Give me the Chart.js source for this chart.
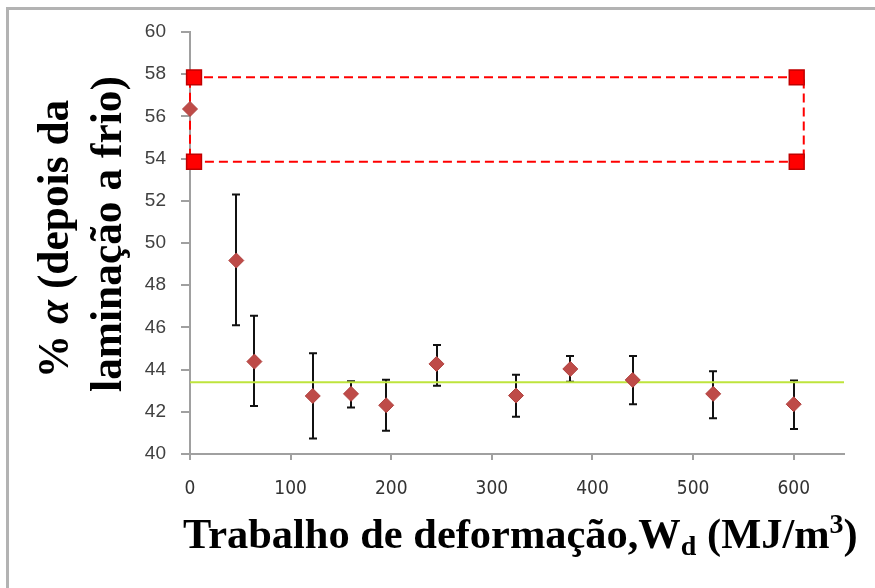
<!DOCTYPE html>
<html>
<head>
<meta charset="utf-8">
<script src="https://cdn.jsdelivr.net/npm/chart.js@4.4.1/dist/chart.umd.min.js"></script>
<style>
  html, body { margin: 0; padding: 0; background: #fff; overflow: hidden; }
  #wrap { position: relative; width: 875px; height: 588px; overflow: hidden; }
  #frame { position: absolute; left: 6px; top: 7px; right: 0; bottom: 0;
           border-top: 3px solid #b3b3b3; border-left: 3px solid #b3b3b3;
           border-right: none; border-bottom: none; pointer-events: none; }
  canvas { display: block; }
</style>
</head>
<body>
<div id="wrap">
  <canvas id="c" width="875" height="588"></canvas>
  <div id="frame"></div>
</div>
<script>
// ---- data ----
const workX      = [0, 46, 64, 122, 160, 195, 245, 324, 378, 440, 520, 600];
const alphaPct   = [56.35, 49.17, 44.38, 42.75, 42.85, 42.31, 44.27, 42.77, 44.03, 43.51, 42.85, 42.36];
const errUpper   = [null, 52.3, 46.55, 44.78, 43.45, 43.52, 45.17, 43.76, 44.65, 44.65, 43.92, 43.48];
const errLower   = [null, 46.1, 42.28, 40.74, 42.2, 41.1, 43.24, 41.77, 43.43, 42.36, 41.7, 41.19];
const bandSquareX = [4, 603];
const bandOutlineX = [0, 610];
const bandY      = [57.85, 53.85];
const meanLineX  = [0, 650];
const meanLineY  = 43.4;
const xTicks     = [0, 100, 200, 300, 400, 500, 600];
const yRange     = [40, 60];

const xTitleParts = [
  {t: 'Trabalho de deformação,W', k: 'n'},
  {t: 'd', k: 'sub'},
  {t: ' (MJ/m', k: 'n'},
  {t: '3', k: 'sup'},
  {t: ')', k: 'n'}
];
const yTitle1 = [{t: '% ', it: false}, {t: 'α', it: true}, {t: ' (depois da', it: false}];
const yTitle2 = 'laminação a frio)';

// build datasets
const mainPts = workX.map((x, i) => ({x: x, y: alphaPct[i]}));
const squarePts = [
  {x: bandSquareX[0], y: bandY[0]}, {x: bandSquareX[1], y: bandY[0]},
  {x: bandSquareX[1], y: bandY[1]}, {x: bandSquareX[0], y: bandY[1]}
];
const outlinePts = [
  {x: bandOutlineX[0], y: bandY[0]}, {x: bandOutlineX[1], y: bandY[0]},
  {x: bandOutlineX[1], y: bandY[1]}, {x: bandOutlineX[0], y: bandY[1]},
  {x: bandOutlineX[0], y: bandY[0]}
];
const meanPts = meanLineX.map(x => ({x: x, y: meanLineY}));

const errorBars = {
  id: 'errorBars',
  beforeDatasetsDraw(chart) {
    const ctx = chart.ctx, xs = chart.scales.x, ys = chart.scales.y;
    ctx.save();
    ctx.strokeStyle = '#111';
    ctx.lineWidth = 2;
    const cap = 4;
    workX.forEach((x, i) => {
      if (errUpper[i] == null) return;
      const px = Math.round(xs.getPixelForValue(x));
      const pt = ys.getPixelForValue(errUpper[i]);
      const pb = ys.getPixelForValue(errLower[i]);
      ctx.beginPath();
      ctx.moveTo(px, pt); ctx.lineTo(px, pb);
      ctx.moveTo(px - cap, pt); ctx.lineTo(px + cap, pt);
      ctx.moveTo(px - cap, pb); ctx.lineTo(px + cap, pb);
      ctx.stroke();
    });
    ctx.restore();
  }
};

const titles = {
  id: 'titles',
  afterDraw(chart) {
    const ctx = chart.ctx;
    ctx.save();
    ctx.fillStyle = '#000';
    const fam = '"Liberation Serif", "Times New Roman", serif';
    function xWidth(fs) {
      let w = 0;
      xTitleParts.forEach(p => {
        const s = p.k === 'n' ? fs : fs * 0.66;
        ctx.font = 'bold ' + s + 'px ' + fam;
        w += ctx.measureText(p.t).width;
      });
      return w;
    }
    let fs = 40;
    fs = fs * 675 / xWidth(fs);
    let x = 183;
    const base = 548;
    ctx.textBaseline = 'alphabetic';
    ctx.textAlign = 'left';
    xTitleParts.forEach(p => {
      let s = fs, dy = 0;
      if (p.k === 'sub') { s = fs * 0.66; dy = fs * 0.16; }
      if (p.k === 'sup') { s = fs * 0.66; dy = -fs * 0.36; }
      ctx.font = 'bold ' + s + 'px ' + fam;
      ctx.fillText(p.t, x, base + dy);
      x += ctx.measureText(p.t).width;
    });
    // y title
    ctx.font = 'bold 40px ' + fam;
    let yfs = 40 * 316 / ctx.measureText(yTitle2).width;
    ctx.save();
    ctx.translate(121, 234);
    ctx.rotate(-Math.PI / 2);
    ctx.font = 'bold ' + yfs + 'px ' + fam;
    ctx.textAlign = 'center';
    ctx.fillText(yTitle2, 0, 0);
    ctx.restore();
    ctx.save();
    ctx.translate(68, 239);
    ctx.rotate(-Math.PI / 2);
    ctx.textAlign = 'left';
    let tot = 0;
    yTitle1.forEach(p => {
      ctx.font = (p.it ? 'italic ' : '') + 'bold ' + yfs + 'px ' + fam;
      tot += ctx.measureText(p.t).width;
    });
    let lx = -tot / 2;
    yTitle1.forEach(p => {
      ctx.font = (p.it ? 'italic ' : '') + 'bold ' + yfs + 'px ' + fam;
      ctx.fillText(p.t, lx, 0);
      lx += ctx.measureText(p.t).width;
    });
    ctx.restore();
    ctx.restore();
  }
};

new Chart(document.getElementById('c'), {
  type: 'scatter',
  data: {
    datasets: [
      {
        data: mainPts, order: 0, clip: false,
        pointStyle: 'rectRot', pointRadius: 7.5, pointHoverRadius: 7.5,
        backgroundColor: '#BE4B48', borderColor: '#B0413E', borderWidth: 1,
        showLine: false
      },
      {
        data: squarePts, order: 1, clip: false,
        pointStyle: 'rect', pointRadius: 10.5, pointHoverRadius: 10.5,
        backgroundColor: '#FF0000', borderColor: '#C00000', borderWidth: 1.5,
        showLine: false
      },
      {
        data: outlinePts, order: 2, clip: false,
        showLine: true, pointRadius: 0, borderColor: '#FF0000', borderWidth: 2,
        borderDash: [9, 5], fill: false, tension: 0
      },
      {
        data: meanPts, order: 3,
        showLine: true, pointRadius: 0, borderColor: '#BEE43C', borderWidth: 2,
        fill: false
      }
    ]
  },
  plugins: [errorBars, titles],
  options: {
    responsive: false,
    animation: false,
    events: [],
    layout: { padding: { left: 0, right: 31, top: 32, bottom: 0 } },
    plugins: { legend: { display: false }, tooltip: { enabled: false } },
    scales: {
      x: {
        type: 'linear', min: 0, max: 650,
        afterBuildTicks: s => { s.ticks = xTicks.map(v => ({value: v})); },
        afterFit: s => { s.height = 134; },
        border: { display: true, color: '#a0a0a0', width: 2 },
        grid: { drawOnChartArea: false, drawTicks: true, tickLength: 6, color: '#a0a0a0', lineWidth: 2 },
        ticks: {
          padding: 18, color: '#333',
          font: { family: '"Liberation Sans Narrow", "Arial Narrow", "DejaVu Sans Condensed", "Liberation Sans", sans-serif', size: 19, weight: 'normal condensed' },
          maxRotation: 0
        }
      },
      y: {
        type: 'linear', min: yRange[0], max: yRange[1],
        afterFit: s => { s.width = 190; },
        border: { display: true, color: '#a0a0a0', width: 2 },
        grid: { drawOnChartArea: false, drawTicks: true, tickLength: 9, color: '#a0a0a0', lineWidth: 2 },
        ticks: {
          stepSize: 2, padding: 15, color: '#404040',
          font: { family: '"Liberation Sans", Arial, sans-serif', size: 19 }
        }
      }
    }
  }
});
</script>
</body>
</html>
